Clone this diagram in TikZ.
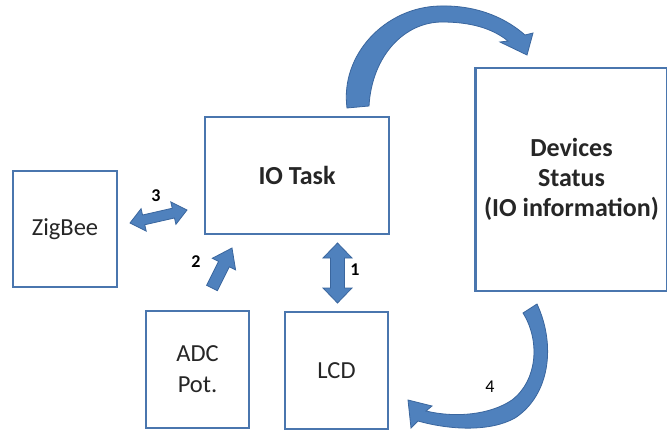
\documentclass[tikz,border=0pt]{standalone}
\usepackage{fontspec}
\setmainfont{Carlito}
\usetikzlibrary{calc}

\definecolor{boxline}{HTML}{4A76AE}
\definecolor{arrowfill}{HTML}{4F81BD}
\definecolor{arrowline}{HTML}{3A669E}

\tikzset{
  unitbox/.style={draw=boxline, line width=2.2pt, fill=white, inner sep=0pt,
    align=center, font=\fontsize{24.5}{31}\selectfont, text=black!85},
  boldtext/.style={font=\fontsize{26}{30}\selectfont\bfseries},
  blockarrow/.style={fill=arrowfill, draw=arrowline, line width=0.8pt, line join=miter},
  numlabel/.style={font=\fontsize{18}{20}\selectfont\bfseries, inner sep=0pt},
}

% double-headed block arrow: #1 tip, #2 tip, #3 shaft half width, #4 head half width, #5 head length
\newcommand\dblblockarrow[5]{%
  \coordinate (#1h) at ($(#1)!#5!(#2)$);
  \coordinate (#2h) at ($(#2)!#5!(#1)$);
  \path[blockarrow] (#1) -- ($(#1h)!#4!90:(#2)$) -- ($(#1h)!#3!90:(#2)$)
    -- ($(#2h)!#3!-90:(#1)$) -- ($(#2h)!#4!-90:(#1)$) -- (#2)
    -- ($(#2h)!#4!90:(#1)$) -- ($(#2h)!#3!90:(#1)$)
    -- ($(#1h)!#3!-90:(#2)$) -- ($(#1h)!#4!-90:(#2)$) -- cycle;}

% single-headed block arrow: #1 tail, #2 tip, #3 shaft half width, #4 head half width, #5 head length
\newcommand\sglblockarrow[5]{%
  \coordinate (#2h) at ($(#2)!#5!(#1)$);
  \path[blockarrow] ($(#1)!#3!90:(#2)$)
    -- ($(#2h)!#3!-90:(#1)$) -- ($(#2h)!#4!-90:(#1)$) -- (#2)
    -- ($(#2h)!#4!90:(#1)$) -- ($(#2h)!#3!90:(#1)$)
    -- ($(#1)!#3!-90:(#2)$) -- cycle;}

\begin{document}
\begin{tikzpicture}[x=1pt, y=-1pt]
  \useasboundingbox[fill=white] (0,0) rectangle (667,432);

  % blocks
  \node[unitbox, minimum width=104pt, minimum height=116pt] (zigbee) at (65,229) {ZigBee};
  \node[unitbox, boldtext, minimum width=184pt, minimum height=117pt] (iotask) at (297,175.5) {IO Task};
  \node[unitbox, boldtext, minimum width=192pt, minimum height=223pt] (status) at (571.5,179.5)
    {Devices\\Status\\(IO information)};
  \node[unitbox, minimum width=103pt, minimum height=117pt] (adc) at (197.5,369.5) {ADC\\Pot.};
  \node[unitbox, minimum width=103pt, minimum height=117pt] (lcd) at (336.5,370.5) {LCD};

  % arrow ends
  \coordinate (z3) at (130,223);
  \coordinate (t3) at (187,210);
  \coordinate (a2) at (212,288);
  \coordinate (t2) at (232,248);
  \coordinate (t1) at (337.5,243);
  \coordinate (l1) at (337.5,303);

  % 3: ZigBee <-> IO Task
  \dblblockarrow{z3}{t3}{5pt}{11.5pt}{14pt}
  % 2: ADC -> IO Task
  \sglblockarrow{a2}{t2}{6pt}{13pt}{18pt}
  % 1: IO Task <-> LCD
  \dblblockarrow{t1}{l1}{7pt}{14.5pt}{15pt}

  % curved arrow: IO Task -> Devices Status
  \path[blockarrow] (347,108) .. controls (340,55) and (385,7) .. (440,6)
    .. controls (480,5) and (508,20) .. (525,35)
    -- (533,33) -- (527,55) -- (500,42) -- (508,41)
    .. controls (492,28) and (470,22) .. (442,22)
    .. controls (405,22) and (372,55) .. (369,106) -- cycle;

  % curved arrow 4: Devices Status -> LCD
  \path[blockarrow] (537,304) .. controls (556,345) and (550,395) .. (515,418)
    .. controls (490,432) and (450,430) .. (418,421)
    -- (411,428) -- (408,400) -- (432,406) -- (426,411)
    .. controls (455,418) and (490,415) .. (512,400)
    .. controls (538,380) and (540,340) .. (523,313) -- cycle;

  % step numbers
  \node[numlabel] (n3) at (156,196) {3};
  \node[numlabel] (n2) at (196,262) {2};
  \node[numlabel] (n1) at (355,270) {1};
  \node[numlabel, font=\fontsize{18}{20}\selectfont] (n4) at (490,387) {4};
\end{tikzpicture}
\end{document}
